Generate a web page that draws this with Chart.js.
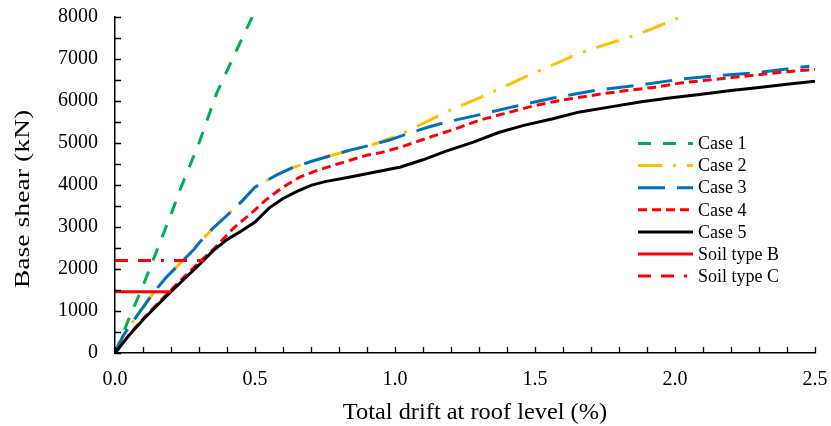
<!DOCTYPE html>
<html>
<head>
<meta charset="utf-8">
<script src="https://cdn.jsdelivr.net/npm/chart.js@4.4.1/dist/chart.umd.min.js"></script>
<style>
  html, body { margin: 0; padding: 0; background: #fff; }
  #wrap { width: 831px; height: 426px; }
</style>
</head>
<body>
<div id="wrap"><canvas id="pushoverChart" width="831" height="426"></canvas></div>
<script>
// ==========================
// Dữ liệu (drift %, base shear kN)
// ==========================
const case1X = [0, 0.05, 0.1, 0.15, 0.2, 0.232, 0.3, 0.364, 0.43, 0.49];
const case1Y = [0, 820, 1600, 2450, 3300, 3880, 5000, 6200, 7150, 8000];

const case3X = [0, 0.03, 0.077, 0.137, 0.18, 0.22, 0.28, 0.3, 0.35, 0.42, 0.457, 0.5, 0.54, 0.578, 0.63, 0.7,
                0.76, 0.84, 0.92, 0.98, 1.05, 1.12, 1.185, 1.3, 1.42, 1.565, 1.72, 1.875, 2.02, 2.15, 2.3, 2.4, 2.48];
const case3Y = [0, 420, 870, 1430, 1780, 2050, 2450, 2620, 2970, 3400, 3640, 3950, 4100, 4240, 4400, 4560,
                4680, 4830, 4960, 5070, 5230, 5380, 5500, 5670, 5860, 6070, 6260, 6380, 6520, 6600, 6680, 6760, 6830];

const case2X = [0, 0.03, 0.077, 0.137, 0.18, 0.22, 0.28, 0.3, 0.35, 0.42, 0.457, 0.5, 0.54, 0.578, 0.63, 0.7,
                0.76, 0.84, 0.92, 0.95, 1.0, 1.06, 1.125, 1.2, 1.3, 1.39, 1.48, 1.57, 1.66, 1.76, 1.86, 1.94, 2.02];
const case2Y = [0, 420, 870, 1430, 1780, 2050, 2450, 2620, 2970, 3400, 3640, 3950, 4100, 4240, 4400, 4560,
                4680, 4830, 4960, 5030, 5150, 5330, 5550, 5790, 6070, 6340, 6620, 6880, 7140, 7360, 7570, 7780, 8000];

const case4X = [0, 0.05, 0.1, 0.15, 0.2, 0.25, 0.3, 0.35, 0.42, 0.49, 0.54, 0.6, 0.66, 0.72, 0.78, 0.84, 0.9,
                0.95, 1.02, 1.13, 1.2, 1.3, 1.39, 1.48, 1.57, 1.66, 1.75, 1.84, 1.93, 2.02, 2.12, 2.22, 2.32, 2.42, 2.5];
const case4Y = [0, 430, 810, 1160, 1500, 1830, 2160, 2460, 2950, 3350, 3650, 3950, 4190, 4340, 4470, 4590, 4710,
                4770, 4900, 5150, 5300, 5540, 5700, 5860, 5990, 6090, 6180, 6260, 6330, 6430, 6500, 6570, 6640, 6710, 6750];

const case5X = [0, 0.05, 0.1, 0.15, 0.2, 0.25, 0.3, 0.35, 0.4, 0.45, 0.5, 0.55, 0.6, 0.65, 0.7, 0.75, 0.84,
                0.93, 1.02, 1.1, 1.18, 1.28, 1.37, 1.46, 1.56, 1.66, 1.77, 1.88, 1.98, 2.08, 2.2, 2.3, 2.4, 2.5];
const case5Y = [0, 420, 790, 1130, 1460, 1780, 2100, 2430, 2700, 2900, 3120, 3450, 3680, 3850, 3990, 4080, 4190,
                4310, 4430, 4600, 4800, 5020, 5250, 5420, 5570, 5740, 5860, 5980, 6070, 6150, 6250, 6320, 6400, 6470];

const soilBX = [0, 0.2];
const soilBY = [1460, 1460];
const soilCX = [0, 0.32];
const soilCY = [2200, 2200];

const seriesLabels = ['Case 1', 'Case 2', 'Case 3', 'Case 4', 'Case 5', 'Soil type B', 'Soil type C'];
const xTitle = 'Total drift at roof level (%)';
const yTitle = 'Base shear (kN)';

// Ghép x, y thành điểm
function toPoints(xs, ys) {
    return xs.map((x, i) => ({ x: x, y: ys[i] }));
}

const FONT = "'Liberation Serif', 'Times New Roman', serif";

// ==========================
// Plugin: vạch chia hướng vào trong
// ==========================
const innerTicks = {
    id: 'innerTicks',
    afterDraw(chart) {
        const ctx = chart.ctx;
        const xs = chart.scales.x, ys = chart.scales.y;
        const area = chart.chartArea;
        ctx.save();
        ctx.strokeStyle = '#000';
        ctx.lineWidth = 1.3;
        ctx.beginPath();
        xs.ticks.forEach(t => {
            const px = Math.round(xs.getPixelForValue(t.value)) + 0.5;
            ctx.moveTo(px, area.bottom);
            ctx.lineTo(px, area.bottom - 6);
        });
        ys.ticks.forEach(t => {
            const py = Math.round(ys.getPixelForValue(t.value)) + 0.5;
            ctx.moveTo(area.left, py);
            ctx.lineTo(area.left + 6, py);
        });
        ctx.stroke();
        ctx.restore();
    }
};

// ==========================
// Plugin: tên trục (chữ hơi kéo giãn như hình gốc)
// ==========================
const axisTitles = {
    id: 'axisTitles',
    afterDraw(chart) {
        const ctx = chart.ctx;
        const area = chart.chartArea;
        ctx.save();
        ctx.fillStyle = '#000';
        ctx.textAlign = 'center';
        ctx.textBaseline = 'middle';

        // trục x
        ctx.save();
        ctx.font = '23px ' + FONT;
        ctx.translate((area.left + area.right) / 2 + 10, 413);
        ctx.scale(1.06, 1);
        ctx.fillText(xTitle, 0, 0);
        ctx.restore();

        // trục y
        ctx.save();
        ctx.font = '21px ' + FONT;
        ctx.translate(23, (area.top + area.bottom) / 2 + 14);
        ctx.rotate(-Math.PI / 2);
        ctx.scale(1.32, 1);
        ctx.fillText(yTitle, 0, 0);
        ctx.restore();

        ctx.restore();
    }
};

// ==========================
// Plugin: chú thích đặt trong vùng biểu đồ
// ==========================
const insideLegend = {
    id: 'insideLegend',
    afterDraw(chart) {
        const ctx = chart.ctx;
        const x0 = 638, x1 = 693, textX = 698, y0 = 143.5, rowH = 22.1;
        ctx.save();
        ctx.font = '18px ' + FONT;
        ctx.textBaseline = 'middle';
        chart.data.datasets.forEach((ds, i) => {
            const y = y0 + i * rowH;
            ctx.strokeStyle = ds.borderColor;
            ctx.lineWidth = ds.borderWidth;
            ctx.setLineDash(ds.borderDash || []);
            ctx.beginPath();
            ctx.moveTo(x0, y);
            ctx.lineTo(x1, y);
            ctx.stroke();
            ctx.setLineDash([]);
            ctx.fillStyle = '#000';
            ctx.fillText(ds.label, textX, y + 1);
        });
        ctx.restore();
    }
};

function makeSet(label, xs, ys, color, dash, order) {
    return {
        label: label,
        data: toPoints(xs, ys),
        borderColor: color,
        backgroundColor: color,
        borderWidth: 3,
        borderDash: dash,
        pointRadius: 0,
        tension: 0,
        fill: false,
        order: order
    };
}

// ==========================
// Vẽ biểu đồ
// ==========================
const ctx = document.getElementById('pushoverChart').getContext('2d');
new Chart(ctx, {
    type: 'line',
    data: {
        datasets: [
            makeSet(seriesLabels[0], case1X, case1Y, '#00B050', [13, 12], 7),
            makeSet(seriesLabels[1], case2X, case2Y, '#FFC000', [24, 11, 3, 11], 6),
            makeSet(seriesLabels[2], case3X, case3Y, '#0070C0', [27, 12], 5),
            makeSet(seriesLabels[3], case4X, case4Y, '#FF0000', [9, 5], 4),
            makeSet(seriesLabels[4], case5X, case5Y, '#000000', [], 3),
            makeSet(seriesLabels[5], soilBX, soilBY, '#FF0000', [], 2),
            makeSet(seriesLabels[6], soilCX, soilCY, '#FF0000', [13, 10, 13, 10, 3, 10], 1)
        ]
    },
    options: {
        responsive: false,
        animation: false,
        layout: { padding: { top: 17, right: 16, left: 0, bottom: 0 } },
        plugins: {
            legend: { display: false },
            tooltip: { enabled: false }
        },
        scales: {
            x: {
                type: 'linear',
                min: 0,
                max: 2.5,
                afterFit: s => { s.height = 73; s.paddingLeft = 0; s.paddingRight = 0; },
                grid: { display: false, drawTicks: false, tickLength: 0 },
                border: { display: true, color: '#000', width: 1.5 },
                ticks: {
                    stepSize: 0.1,
                    autoSkip: false,
                    maxTicksLimit: 100,
                    maxRotation: 0,
                    padding: 15,
                    color: '#000',
                    font: { family: FONT, size: 20 },
                    callback: v => (Math.abs(v * 2 - Math.round(v * 2)) < 1e-6 ? v.toFixed(1) : '')
                }
            },
            y: {
                type: 'linear',
                min: 0,
                max: 8000,
                afterFit: s => { s.width = 115; s.paddingTop = 0; s.paddingBottom = 0; },
                grid: { display: false, drawTicks: false, tickLength: 0 },
                border: { display: true, color: '#000', width: 1.5 },
                ticks: {
                    stepSize: 500,
                    autoSkip: false,
                    maxTicksLimit: 100,
                    padding: 17,
                    color: '#000',
                    font: { family: FONT, size: 20 },
                    callback: v => (v % 1000 === 0 ? String(v) : '')
                }
            }
        }
    },
    plugins: [innerTicks, axisTitles, insideLegend]
});
</script>
</body>
</html>
